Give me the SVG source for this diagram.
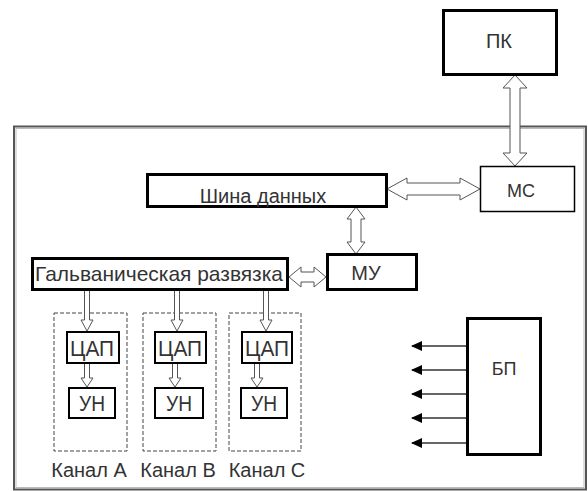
<svg xmlns="http://www.w3.org/2000/svg" width="588" height="491" viewBox="0 0 588 491">
<style>
.box{fill:#fff;stroke:#000}
.thick{stroke-width:3}
.mid{stroke-width:2}
.thin{stroke-width:1.5}
.dash{fill:none;stroke:#444;stroke-width:1;stroke-dasharray:4 2}
.harrow{fill:#fff;stroke:#555;stroke-width:1}
.t{font-family:"Liberation Sans",Arial,sans-serif;fill:#333;text-anchor:middle}
.pline{stroke:#333;stroke-width:1.5}
</style>
<defs>
<marker id="ah" markerWidth="11" markerHeight="10" refX="10" refY="5" orient="auto" markerUnits="userSpaceOnUse">
<path d="M0,0 L11,5 L0,10 Z" transform="rotate(0)" fill="#000"/>
</marker>
</defs>
<rect width="588" height="491" fill="#fff"/>
<g id="frame">
<rect x="14" y="126.5" width="572" height="363" fill="none" stroke="#555" stroke-width="2"/>
<rect x="16" y="128.5" width="568" height="359" fill="none" stroke="#bbb" stroke-width="1"/>
</g>
<g id="channels">
<rect class="dash" x="54" y="313" width="73" height="138"/>
<rect class="dash" x="143" y="313" width="73" height="138"/>
<rect class="dash" x="229" y="313" width="72" height="138"/>
</g>
<g id="connectors">
<path class="harrow" d="M515,75 L527,88 L520,88 L520,153 L527,153 L515,166 L503,153 L510,153 L510,88 L503,88 Z"/>
<path class="harrow" d="M387,189 L407,178 L407,183 L460,183 L460,178 L480,189 L460,200 L460,195 L407,195 L407,200 Z"/>
<path class="harrow" d="M356,207 L365,219 L361,219 L361,242 L365,242 L356,254 L347,242 L351,242 L351,219 L347,219 Z"/>
<path class="harrow" d="M289,277 L301,267 L301,272 L314,272 L314,267 L326,277 L314,287 L314,282 L301,282 L301,287 Z"/>
<path class="harrow" d="M84.5,291 L84.5,320 L81,320 L87,331 L93,320 L89.5,320 L89.5,291"/>
<path class="harrow" d="M174.5,291 L174.5,320 L171,320 L177,331 L183,320 L179.5,320 L179.5,291"/>
<path class="harrow" d="M263.5,291 L263.5,320 L260,320 L266,331 L272,320 L268.5,320 L268.5,291"/>
<path class="harrow" d="M84.5,363 L84.5,378 L81,378 L87,387 L93,378 L89.5,378 L89.5,363"/>
<path class="harrow" d="M172.5,363 L172.5,378 L169,378 L175,387 L181,378 L177.5,378 L177.5,363"/>
<path class="harrow" d="M254.5,363 L254.5,378 L251,378 L257,387 L263,378 L259.5,378 L259.5,363"/>
<line class="pline" x1="467" y1="346" x2="412" y2="346" marker-end="url(#ah)"/>
<line class="pline" x1="467" y1="370" x2="412" y2="370" marker-end="url(#ah)"/>
<line class="pline" x1="467" y1="394" x2="412" y2="394" marker-end="url(#ah)"/>
<line class="pline" x1="467" y1="418" x2="412" y2="418" marker-end="url(#ah)"/>
<line class="pline" x1="467" y1="443" x2="412" y2="443" marker-end="url(#ah)"/>
</g>
<g id="pk">
<rect class="box thick" x="443.5" y="10.5" width="113" height="64"/>
<text class="t" x="499" y="48" font-size="20">ПК</text>
</g>
<g id="mc">
<rect class="box thin" x="480.5" y="166.5" width="94" height="45"/>
<text class="t" x="521" y="197" font-size="18">МС</text>
</g>
<g id="bus">
<rect class="box thick" x="147.5" y="174.5" width="239" height="32"/>
<text class="t" x="263" y="203" font-size="20">Шина данных</text>
</g>
<g id="mu">
<rect class="box thick" x="327.5" y="254.5" width="89" height="35"/>
<text class="t" x="366" y="280" font-size="20">МУ</text>
</g>
<g id="galv">
<rect class="box thick" x="32.5" y="258.5" width="255" height="31"/>
<text class="t" x="159" y="281" font-size="21" textLength="248" lengthAdjust="spacingAndGlyphs">Гальваническая развязка</text>
</g>
<g id="dacA">
<rect class="box mid" x="67" y="332" width="52" height="31"/>
<text class="t" x="92" y="356" font-size="22" textLength="44" lengthAdjust="spacingAndGlyphs">ЦАП</text>
</g>
<g id="dacB">
<rect class="box mid" x="155" y="332" width="51" height="31"/>
<text class="t" x="180" y="356" font-size="22" textLength="44" lengthAdjust="spacingAndGlyphs">ЦАП</text>
</g>
<g id="dacC">
<rect class="box mid" x="242" y="332" width="50" height="31"/>
<text class="t" x="267" y="356" font-size="22" textLength="44" lengthAdjust="spacingAndGlyphs">ЦАП</text>
</g>
<g id="unA">
<rect class="box mid" x="69" y="388" width="46" height="30"/>
<text class="t" x="92" y="411" font-size="22" textLength="26" lengthAdjust="spacingAndGlyphs">УН</text>
</g>
<g id="unB">
<rect class="box mid" x="155" y="388" width="48" height="30"/>
<text class="t" x="179" y="411" font-size="22" textLength="26" lengthAdjust="spacingAndGlyphs">УН</text>
</g>
<g id="unC">
<rect class="box mid" x="241" y="388" width="46" height="30"/>
<text class="t" x="264" y="411" font-size="22" textLength="26" lengthAdjust="spacingAndGlyphs">УН</text>
</g>
<g id="labels">
<text class="t" x="89" y="477" font-size="20">Канал A</text>
<text class="t" x="178" y="477" font-size="20">Канал B</text>
<text class="t" x="267" y="477" font-size="20">Канал C</text>
</g>
<g id="bp">
<rect class="box thick" x="467.5" y="318.5" width="73" height="136"/>
<text class="t" x="504" y="375" font-size="18">БП</text>
</g>
</svg>
